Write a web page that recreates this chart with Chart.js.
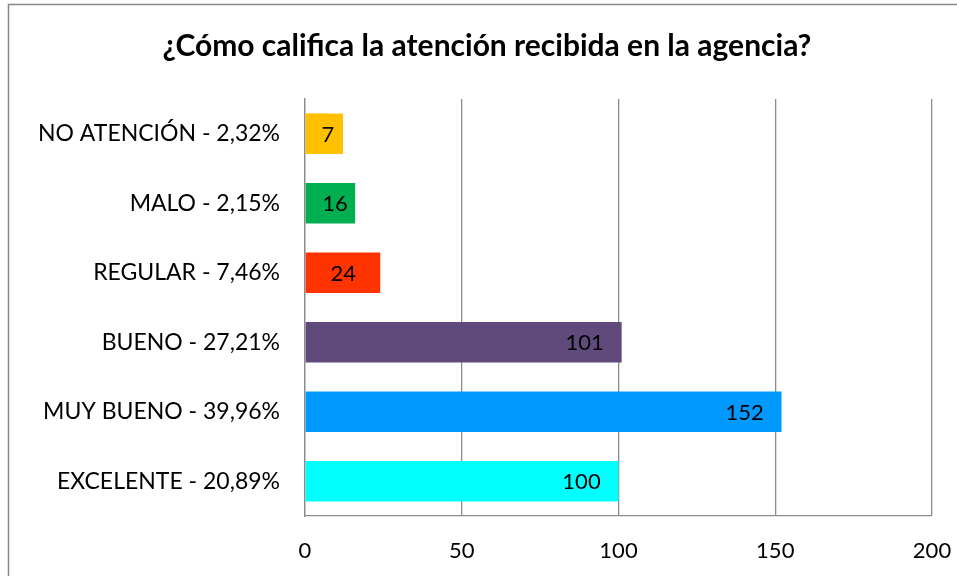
<!DOCTYPE html>
<html>
<head>
<meta charset="utf-8">
<script src="https://cdn.jsdelivr.net/npm/chart.js@4.4.1/dist/chart.umd.min.js"></script>
<style>
  html, body { margin: 0; padding: 0; background: #fff; }
  #wrap { width: 957px; height: 576px; }
</style>
</head>
<body>
<div id="wrap"><canvas id="chart" width="957" height="576"></canvas></div>
<script>
const titleText = "¿Cómo califica la atención recibida en la agencia?";
const categories = [
    "NO ATENCIÓN - 2,32%",
    "MALO - 2,15%",
    "REGULAR - 7,46%",
    "BUENO - 27,21%",
    "MUY BUENO - 39,96%",
    "EXCELENTE - 20,89%"
];
const values = [7, 16, 24, 101, 152, 100];
const barColors = ["#FFC000", "#00B050", "#FF3300", "#604A7B", "#0099FF", "#00FFFF"];
const xTicks = [0, 50, 100, 150, 200];

const FONT = "Lato, 'Noto Sans', sans-serif";

/* frame + title */
const framePlugin = {
    id: "frame",
    beforeDraw(chart) {
        const c = chart.ctx;
        c.save();
        c.fillStyle = "#fff";
        c.fillRect(0, 0, chart.width, chart.height);
        c.strokeStyle = "#888";
        c.lineWidth = 1.5;
        c.beginPath();
        c.moveTo(8.5, chart.height + 2);
        c.lineTo(8.5, 4.5);
        c.lineTo(chart.width + 2, 4.5);
        c.stroke();
        c.fillStyle = "#000";
        c.font = "bold 30px " + FONT;
        c.textAlign = "center";
        c.textBaseline = "middle";
        c.fillText(titleText, 487, 46);
        c.restore();
    }
};

/* value labels near the bar end */
const valuePlugin = {
    id: "values",
    afterDatasetsDraw(chart) {
        const c = chart.ctx;
        const meta = chart.getDatasetMeta(0);
        const x0 = chart.scales.x.getPixelForValue(0);
        c.save();
        c.font = "22px " + FONT;
        c.textAlign = "center";
        c.textBaseline = "middle";
        meta.data.forEach((bar, i) => {
            const len = bar.x - x0;
            let cx = len > 60 ? bar.x - 37 : x0 + Math.max(len * 0.6, 23);
            const half = bar.height / 2;
            if (cx + 15 > bar.x) {
                c.fillStyle = barColors[i];
                c.fillRect(x0 + 1, bar.y - half, cx + 15 - x0 - 1, bar.height);
            }
            c.fillStyle = "#000";
            c.fillText(String(values[i]), cx, bar.y + 1);
        });
        c.restore();
    }
};

new Chart(document.getElementById("chart"), {
    type: "bar",
    data: {
        labels: categories,
        datasets: [{
            data: values,
            backgroundColor: barColors,
            borderWidth: 0,
            categoryPercentage: 1,
            barPercentage: 0.58
        }]
    },
    options: {
        indexAxis: "y",
        responsive: false,
        animation: false,
        layout: { padding: { left: 10, right: 25, top: 99, bottom: 0 } },
        plugins: {
            legend: { display: false },
            title: { display: false },
            tooltip: { enabled: false }
        },
        scales: {
            x: {
                min: 0,
                max: 200,
                afterBuildTicks(s) { s.ticks = xTicks.map(v => ({ value: v })); },
                afterFit(s) { s.height = 60; s.paddingLeft = 0; s.paddingRight = 0; },
                grid: { color: "#8c8c8c", lineWidth: 1.3, drawTicks: false },
                border: { color: "#8c8c8c", width: 1.3 },
                ticks: { color: "#000", font: { family: FONT, size: 22 }, padding: 22 }
            },
            y: {
                afterFit(s) { s.width = 295; s.paddingTop = 0; s.paddingBottom = 0; },
                grid: { display: false, drawTicks: false },
                border: { color: "#8c8c8c", width: 1.3 },
                ticks: { color: "#000", font: { family: FONT, size: 23 }, padding: 25 }
            }
        }
    },
    plugins: [framePlugin, valuePlugin]
});
</script>
</body>
</html>
